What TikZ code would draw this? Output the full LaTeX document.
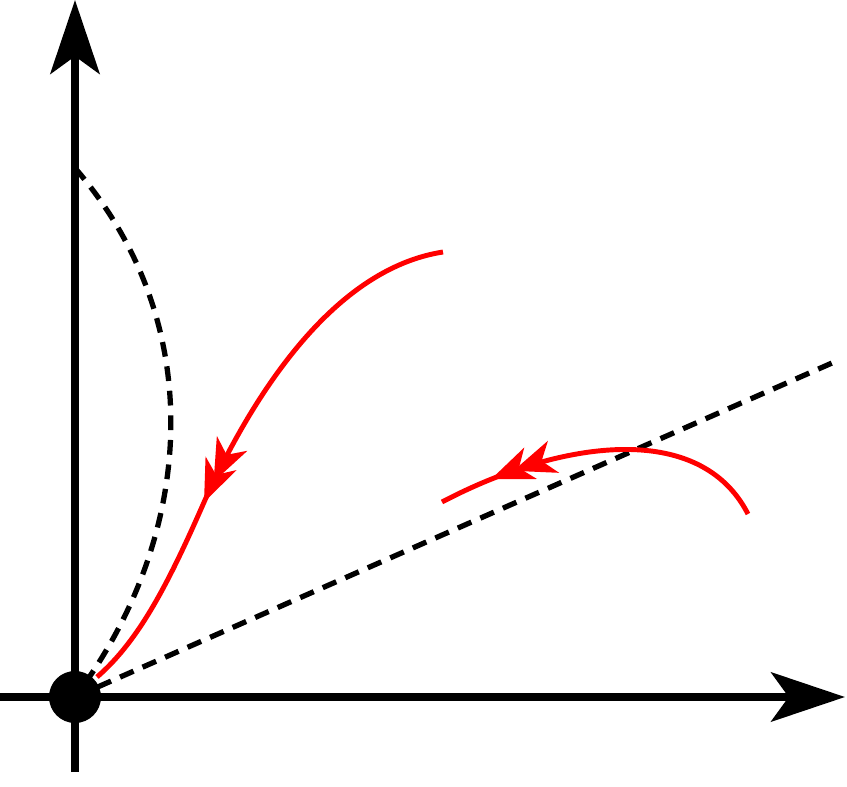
\documentclass[tikz,border=0pt]{standalone}
\usetikzlibrary{arrows.meta,decorations.markings}
\begin{document}
\begin{tikzpicture}[x=0.01cm,y=-0.01cm,
  axis/.style={line width=2.2pt,-{Stealth[length=21pt,width=14pt,inset=5pt]}},
  dashcurve/.style={line width=1.5pt,dash pattern=on 4.2pt off 2.8pt},
  redcurve/.style={red,line width=1.4pt},
  redtip/.tip={Stealth[length=12pt,width=9.5pt,inset=3.5pt]}]
\useasboundingbox (0,0) rectangle (847,787);
\coordinate (O) at (75,697);
\coordinate (X) at (845,697);
\coordinate (Y) at (75,0);
\coordinate (XL) at (0,697);
\coordinate (YB) at (75,772);
% axes
\draw[line width=2.2pt] (XL) -- (O);
\draw[line width=2.2pt] (YB) -- (O);
\draw[axis] (O) -- (X);
\draw[axis] (O) -- (Y);
% dashed
\draw[dashcurve] (75,168) .. controls (215,330) and (190,545) .. (O);
\draw[dashcurve] (O) -- (832,363);
% red curves
\draw[redcurve,decoration={markings,
    mark=at position 0.595 with {\arrow[red]{redtip}},
    mark=at position 0.635 with {\arrow[red]{redtip}}},postaction={decorate}]
  (443,252) .. controls (340,268) and (260,380) .. (205,500) .. controls (170,580) and (140,640) .. (97,677);
\draw[redcurve,decoration={markings,
    mark=at position 0.77 with {\arrow[red]{redtip}},
    mark=at position 0.84 with {\arrow[red]{redtip}}},postaction={decorate}]
  (748,514) .. controls (700,420) and (560,440) .. (442,502);
% origin dot
\fill (O) circle (26);
\end{tikzpicture}
\end{document}
